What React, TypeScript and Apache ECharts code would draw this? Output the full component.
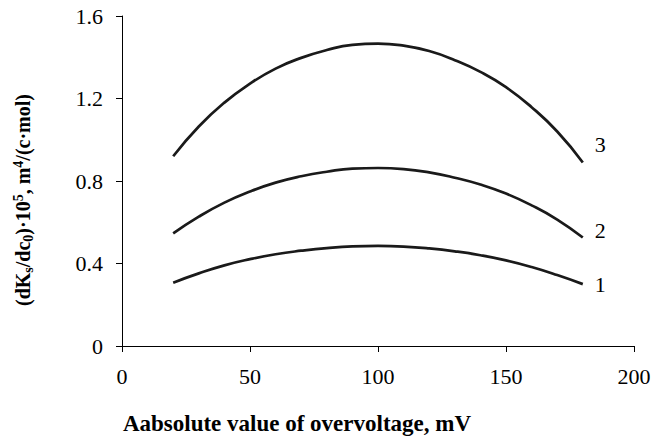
import React, { useEffect, useRef } from "react";
import * as echarts from "echarts";

const xValues = [20, 30, 40, 50, 60, 70, 80, 90, 100, 110, 120, 130, 140, 150, 160, 170, 180];
const curve1 = [0.307, 0.352, 0.391, 0.421, 0.445, 0.462, 0.475, 0.483, 0.485, 0.482, 0.473, 0.459, 0.44, 0.415, 0.383, 0.344, 0.3];
const curve2 = [0.546, 0.627, 0.695, 0.749, 0.792, 0.823, 0.845, 0.86, 0.863, 0.858, 0.842, 0.816, 0.783, 0.739, 0.682, 0.613, 0.526];
const curve3 = [0.92, 1.064, 1.18, 1.272, 1.345, 1.397, 1.435, 1.46, 1.466, 1.456, 1.43, 1.386, 1.329, 1.255, 1.158, 1.04, 0.89];
const seriesNames = ["1", "2", "3"];
const xTicks = { min: 0, max: 200, interval: 50 };
const yTicks = { min: 0, max: 1.6, interval: 0.4 };

const FONT = "'Liberation Serif', 'Times New Roman', serif";

export default function App() {
  const ref = useRef<HTMLDivElement>(null);
  useEffect(() => {
    if (!ref.current) return;
    const chart = echarts.init(ref.current, null, { renderer: "svg" });
    const all = [curve1, curve2, curve3];
    const labelOffsets = [[4, 0], [4, -7], [4, -18]];
    chart.setOption({
      animation: false,
      backgroundColor: "#ffffff",
      grid: { left: 122, top: 16, right: 20, bottom: 91, containLabel: false },
      xAxis: {
        type: "value",
        min: xTicks.min,
        max: xTicks.max,
        interval: xTicks.interval,
        axisLine: { show: true, onZero: false, lineStyle: { color: "#000", width: 1 } },
        axisTick: { show: true, inside: false, length: 6, lineStyle: { color: "#000" } },
        splitLine: { show: false },
        axisLabel: { color: "#000", fontFamily: FONT, fontSize: 22, margin: 19 },
      },
      yAxis: {
        type: "value",
        min: yTicks.min,
        max: yTicks.max,
        interval: yTicks.interval,
        axisLine: { show: true, lineStyle: { color: "#000", width: 1 } },
        axisTick: { show: true, length: 6, lineStyle: { color: "#000" } },
        splitLine: { show: false },
        axisLabel: {
          color: "#000",
          fontFamily: FONT,
          fontSize: 22,
          margin: 19,
          formatter: (v: number) => (v === 0 ? "0" : v.toFixed(1)),
        },
      },
      graphic: [
        {
          type: "text",
          x: 297,
          y: 423,
          style: {
            text: "Aabsolute value of overvoltage, mV",
            font: `bold 23px ${FONT}`,
            fill: "#000",
            align: "center",
            verticalAlign: "middle",
          },
        },
        {
          type: "text",
          x: 23,
          y: 200,
          rotation: Math.PI / 2,
          style: {
            text: "{n|(dK}{sub|s}{n|/dc}{sub|0}{n|)·10}{sup|5}{n|, m}{sup|4}{n|/(c·mol)}",
            fill: "#000",
            align: "center",
            verticalAlign: "middle",
            rich: {
              n: { font: `bold 20px ${FONT}`, fill: "#000", lineHeight: 26, verticalAlign: "middle" },
              sub: { font: `bold 14px ${FONT}`, fill: "#000", lineHeight: 26, verticalAlign: "bottom", padding: [0, 0, 1, 0] },
              sup: { font: `bold 14px ${FONT}`, fill: "#000", lineHeight: 26, verticalAlign: "top", padding: [1, 0, 0, 0] },
            },
          },
        },
      ],
      series: all.map((vals, i) => ({
        name: seriesNames[i],
        type: "line",
        smooth: true,
        showSymbol: false,
        symbol: "none",
        lineStyle: { color: "#1a1a1a", width: 2.7 },
        data: xValues.map((x, j) => [x, vals[j]]),
        endLabel: {
          show: true,
          formatter: seriesNames[i],
          color: "#000",
          fontFamily: FONT,
          fontSize: 22,
          offset: labelOffsets[i],
        },
      })),
    });
    return () => chart.dispose();
  }, []);
  return <div ref={ref} style={{ width: 654, height: 437, position: "absolute", left: 0, top: 0 }} />;
}
